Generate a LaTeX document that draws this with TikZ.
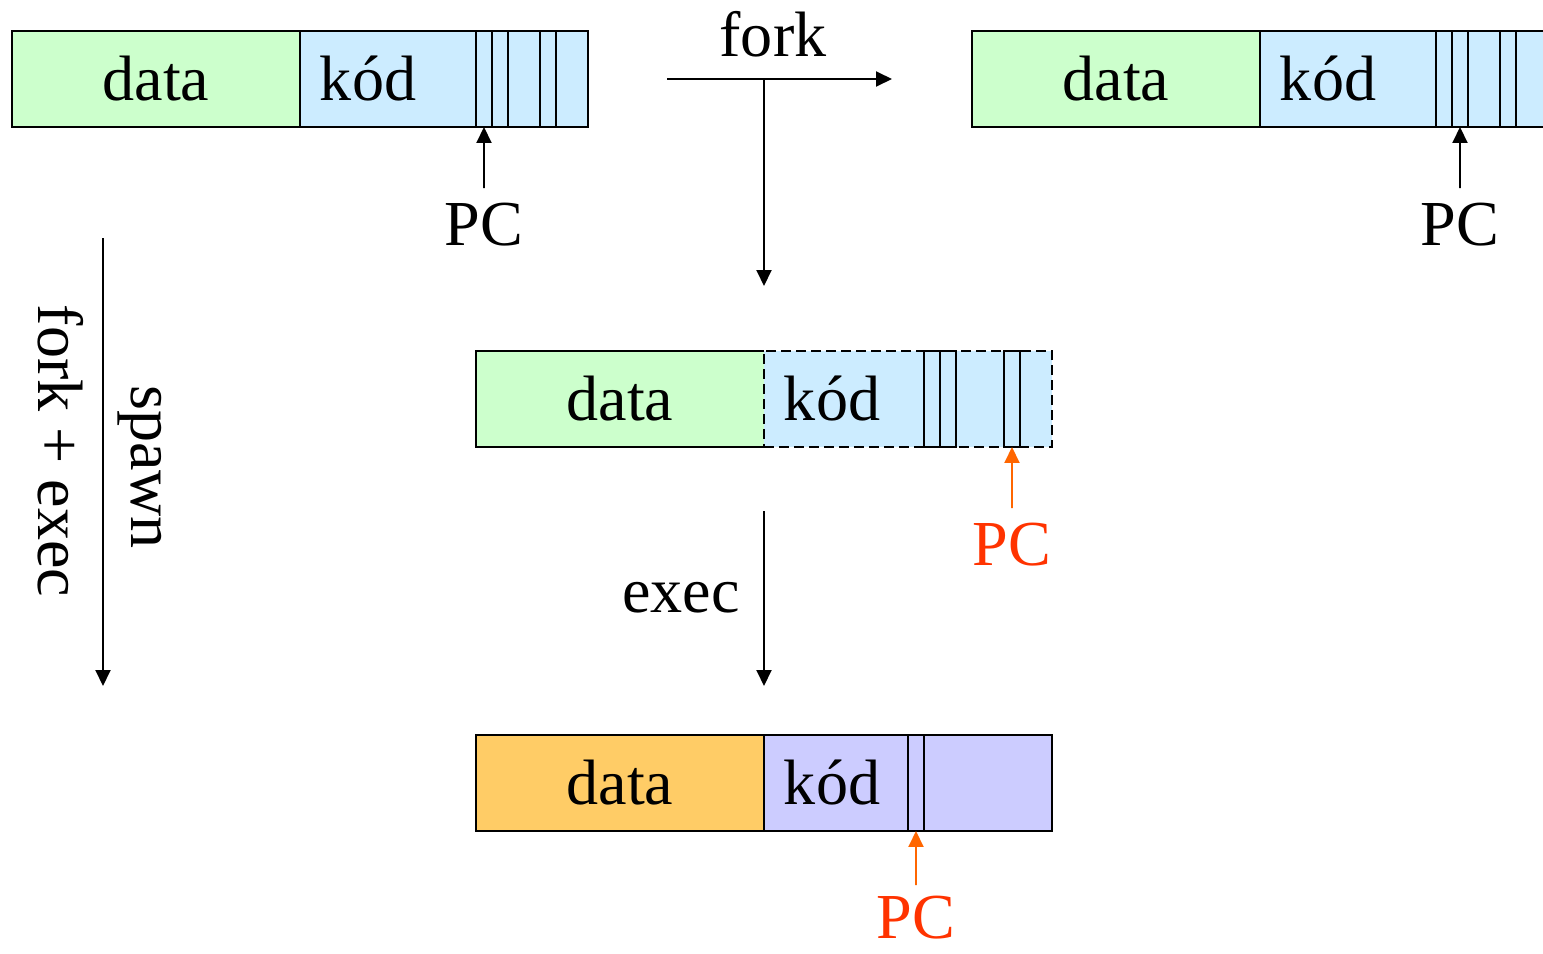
\documentclass[tikz,border=0pt]{standalone}
\usepackage{fontspec}
\setmainfont{Liberation Serif}
\usetikzlibrary{positioning, arrows.meta}

\definecolor{datagreen}{HTML}{CCFFCC}
\definecolor{codeblue}{HTML}{CCECFF}
\definecolor{dataorange}{HTML}{FFCC66}
\definecolor{codeviolet}{HTML}{CCCCFF}
\definecolor{pcarrow}{HTML}{FF6600}
\definecolor{pctext}{HTML}{FF3300}

\tikzset{
  cell/.style={draw, line width=1.3pt, minimum height=1.92cm, minimum width=5.76cm, inner sep=0pt, outer sep=0pt},
  datacell/.style={cell, fill=datagreen},
  codecell/.style={cell, fill=codeblue, text width=4.96cm, align=left, inner xsep=0.4cm},
  slot/.style={draw, line width=1.1pt, minimum width=0.32cm, minimum height=1.92cm, inner sep=0pt, outer sep=0pt, anchor=north west},
  arr/.style={line width=1.1pt, -{Triangle[length=0.32cm, width=0.3cm]}},
  pc/.style={inner sep=0pt}
}

\begin{document}
\begin{tikzpicture}[x=0.02cm, y=-0.02cm, font=\fontsize{36.5}{42}\selectfont]
\useasboundingbox (0,0) rectangle (1543,954);

% Parent process
\node[datacell, anchor=north west] (d1) at (12,31) {data};
\node[codecell, right=0pt of d1] (k1) {kód};
\node[slot] (s11) at (476,31) {};
\node[slot] (s12) at (492,31) {};
\node[slot] (s13) at (540,31) {};
\node[pc] (pc1) at (484,225) {PC};
\draw[arr] ([yshift=0.3cm]pc1.north) -- (s11.south);

% Child process after fork
\node[datacell, anchor=north west] (d2) at (972,31) {data};
\node[codecell, right=0pt of d2] (k2) {kód};
\node[slot] (s21) at (1436,31) {};
\node[slot] (s22) at (1452,31) {};
\node[slot] (s23) at (1500,31) {};
\node[pc] (pc2) at (1460,225) {PC};
\draw[arr] ([yshift=0.3cm]pc2.north) -- (s22.south);

% fork
\coordinate (forkL) at (667,79);
\coordinate (forkR) at (892,79);
\coordinate (forkM) at (764,79);
\coordinate (forkD) at (764,286);
\node (forklbl) at (773,34) {fork};
\draw[arr] (forkL) -- (forkR);
\draw[arr] (forkM) -- (forkD);

% Shared code (copy on write)
\node[datacell, draw=none, anchor=north west] (d3) at (476,351) {data};
\node[codecell, dashed, dash pattern=on 0.2cm off 0.1cm, right=0pt of d3] (k3) {kód};
\draw[line width=1.3pt] (d3.north east) -- (d3.north west) -- (d3.south west) -- (d3.south east);
\node[slot] (s31) at (924,351) {};
\node[slot] (s32) at (940,351) {};
\node[slot] (s33) at (1004,351) {};
\node[pc, text=pctext] (pc3) at (1012,545) {PC};
\draw[arr, pcarrow] ([yshift=0.3cm]pc3.north) -- (s33.south);

% exec
\coordinate (execT) at (764,511);
\coordinate (execB) at (764,686);
\node (execlbl) at (681,598) {exec};
\draw[arr] (execT) -- (execB);

% New program
\node[datacell, fill=dataorange, anchor=north west] (d4) at (476,735) {data};
\node[codecell, fill=codeviolet, right=0pt of d4] (k4) {kód};
\node[slot] (s41) at (908,735) {};
\node[pc, text=pctext] (pc4) at (916,918) {PC};
\draw[arr, pcarrow] ([yshift=0.22cm]pc4.north) -- (s41.south);

% spawn
\coordinate (spawnT) at (103,238);
\coordinate (spawnB) at (103,686);
\node[rotate=-90] (forkexec) at (61,451) {fork + exec};
\node[rotate=-90] (spawnlbl) at (140,467) {spawn};
\draw[arr] (spawnT) -- (spawnB);
\end{tikzpicture}
\end{document}
